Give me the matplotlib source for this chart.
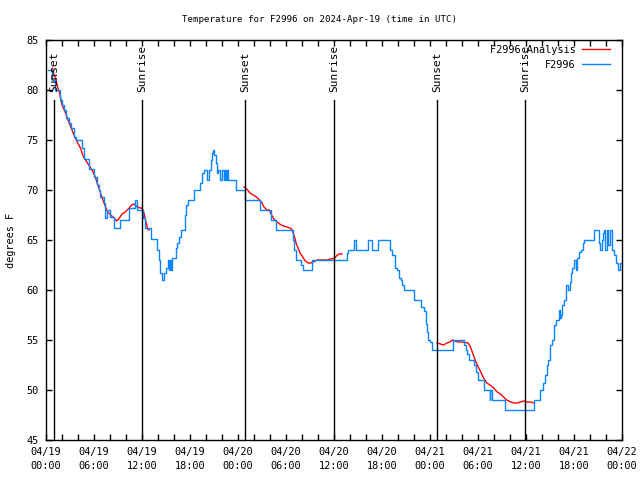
import matplotlib
matplotlib.use("Agg")
import matplotlib.pyplot as plt
from matplotlib.ticker import MultipleLocator, FixedLocator

# ---- data (hours since 2024-04-19 00:00 UTC) ----
obs_t = [0.25, 0.8, 1.1, 1.7, 2.0, 2.25, 2.45, 2.9, 3.1, 3.5, 3.8, 4.45, 4.7, 5.35, 5.95,
         6.35, 6.6, 6.8, 7.2, 7.4, 7.65, 8.05, 8.5, 9.2, 10.4, 11.1, 11.4, 12.15, 12.4, 13.1,
         13.9, 14.15, 14.3, 14.45, 14.7, 14.95, 15.2, 15.35, 15.5, 15.6, 15.8, 16.2, 16.35,
         16.6, 16.85, 17.35, 17.55, 17.75, 18.55, 19.25, 19.5, 19.7, 20.15, 20.35, 20.65,
         20.8, 20.9, 21.05, 21.2, 21.35, 21.5, 21.75, 22.05, 22.25, 22.4, 22.55, 22.65, 22.8,
         23.7, 24.85, 26.75, 28.1, 28.7, 30.85, 31.0, 31.25, 31.9, 32.1, 33.3, 37.6, 37.8,
         38.55, 38.75, 40.3, 40.75, 41.45, 43.0, 43.3, 43.6, 43.9, 44.1, 44.4, 44.55, 44.75,
         46.05, 46.9, 47.2, 47.45, 47.6, 47.8, 48.0, 48.25, 50.9, 52.25, 52.45, 52.65, 52.85,
         53.5, 53.75, 54.05, 54.75, 55.45, 55.55, 55.75, 57.35, 60.95, 61.75, 62.1, 62.4,
         62.6, 62.75, 63.0, 63.2, 63.5, 63.7, 64.1, 64.25, 64.4, 64.55, 64.7, 65.05, 65.25,
         65.45, 65.6, 65.8, 66.0, 66.2, 66.4, 66.65, 66.9, 67.1, 67.3, 68.5, 69.1, 69.2, 69.5,
         69.65, 69.75, 69.9, 70.1, 70.3, 70.45, 70.7, 71.0, 71.3, 71.55, 71.8, 72.0]
obs_v = [82, 81, 80, 79, 78.5, 78, 77.2, 76.7, 76.2, 75.3, 75, 74.2, 73.1, 72.1, 71.3,
         70.5, 70, 69.3, 68.7, 67.2, 68, 67.3, 66.2, 67, 68.2, 69, 68, 67.2, 66.2, 65.1,
         64, 63, 61.7, 61, 61.7, 62.2, 63, 62, 63, 62, 63.2, 64.2, 64.7,
         65.3, 66, 67.5, 68.5, 69, 70, 70.7, 71.7, 72, 71, 72, 73,
         73.7, 74, 73.5, 72.7, 71.7, 72, 71, 72, 71, 72, 71, 72, 71,
         70, 69, 68, 67, 66, 65, 64, 63, 62.5, 62, 63, 63.7, 64,
         65, 64, 65, 64, 65, 64, 63.5, 62.2, 62, 61.2, 61, 60.5, 60,
         59, 58.3, 57.9, 56.6, 55.8, 55, 54.8, 54, 55, 54.5, 54, 53.6, 53,
         52.5, 51.8, 51, 50, 49, 50, 49, 48, 49, 50, 50.7, 51.5,
         52.5, 53, 54.5, 55, 56.5, 57, 58, 57.2, 57.5, 58.5, 59, 60.5, 60,
         60.8, 61.7, 62.2, 63, 62, 63.2, 63.8, 64, 64.7, 65, 66, 64.7, 64, 65,
         65.7, 66, 64, 66, 64.5, 66, 64, 63.5, 62.7, 62, 62.7, 62.7]

ana1_t = [0.8, 1.0, 1.2, 1.45, 1.7, 2.0, 2.45, 2.75, 3.1, 3.5, 3.9, 4.3, 4.7, 5.1, 5.5, 5.9,
          6.2, 6.6, 6.9, 7.25, 7.7, 8.1, 8.5, 8.8, 9.1, 9.5, 9.9, 10.4, 10.7, 11.0, 11.4,
          11.8, 12.0, 12.25, 12.5, 12.7, 12.9]
ana1_v = [82.2, 81.5, 81.2, 80.3, 79.7, 78.5, 77.7, 77.0, 76.3, 75.5, 74.8, 74.2, 73.3, 72.8,
          72.3, 71.8, 71.2, 70.2, 69.5, 68.7, 67.8, 67.5, 67.2, 66.9, 67.1, 67.6, 67.8, 68.2,
          68.5, 68.6, 68.3, 68.2, 68.2, 67.7, 66.8, 66.1, 66.0]
ana2_t = [24.75, 25.1, 25.5, 25.9, 26.3, 26.7, 27.0, 27.25, 27.6, 27.9, 28.2, 28.4, 28.6, 28.9,
          29.2, 29.7, 30.1, 30.5, 30.7, 30.9, 31.1, 31.3, 31.5, 31.75, 32.1, 32.4, 32.8, 33.1,
          33.4, 33.9, 35.1, 35.6, 36.1, 36.3, 36.6, 37.0]
ana2_v = [70.3, 70.1, 69.7, 69.5, 69.3, 69.0, 68.7, 68.3, 68.0, 68.0, 67.5, 67.2, 67.0, 66.8,
          66.6, 66.4, 66.3, 66.2, 66.1, 65.7, 65.2, 64.6, 64.2, 63.7, 63.3, 62.9, 62.7, 62.7,
          62.8, 63.0, 63.0, 63.1, 63.2, 63.4, 63.6, 63.6]
ana3_t = [48.9, 49.3, 49.7, 50.1, 50.5, 50.8, 51.5, 52.1, 52.75, 52.95, 53.2, 53.5, 53.8, 54.1,
          54.4, 54.7, 55.1, 55.5, 55.95, 56.4, 56.8, 57.2, 57.6, 58.1, 58.5, 58.9, 59.3, 59.7,
          60.1, 60.6, 60.9]
ana3_v = [54.7, 54.6, 54.5, 54.7, 54.8, 55.0, 54.8, 54.8, 54.7, 54.5, 54.0, 53.3, 52.7, 52.2,
          51.7, 51.2, 50.7, 50.5, 50.2, 49.8, 49.6, 49.3, 49.0, 48.8, 48.7, 48.7, 48.8, 48.9,
          48.8, 48.8, 48.7]

sun_t = [1.0, 12.0, 24.9, 36.0, 48.9, 59.9]
sun_lbl = ["Sunset", "Sunrise", "Sunset", "Sunrise", "Sunset", "Sunrise"]

xtick_h = [0, 6, 12, 18, 24, 30, 36, 42, 48, 54, 60, 66, 72]
xtick_lbl = ["04/19\n00:00", "04/19\n06:00", "04/19\n12:00", "04/19\n18:00",
             "04/20\n00:00", "04/20\n06:00", "04/20\n12:00", "04/20\n18:00",
             "04/21\n00:00", "04/21\n06:00", "04/21\n12:00", "04/21\n18:00",
             "04/22\n00:00"]

FONT = "DejaVu Sans Mono"
FS_T = 6.6     # title
FS = 7.4       # ticks, labels, legend
FS_SUN = 8.0
plt.rcParams['font.family'] = FONT

fig = plt.figure(figsize=(6.4, 4.8), dpi=100)
ax = fig.add_axes([46/640, 40/480, 576/640, 400/480])

red = '#ff0000'
blue = '#0a84ff'
ax.plot(ana1_t, ana1_v, color=red, lw=1.0, label='F2996 Analysis')
ax.plot(ana2_t, ana2_v, color=red, lw=1.0)
ax.plot(ana3_t, ana3_v, color=red, lw=1.0)
ax.plot(obs_t, obs_v, color=blue, lw=1.0, drawstyle='steps-post', label='F2996')

for t, lbl in zip(sun_t, sun_lbl):
    ax.plot([t, t], [0, 0.85], color='black', lw=1.0, transform=ax.get_xaxis_transform())
    ax.text(t, 0.87, lbl, rotation=90, ha='center', va='bottom', fontsize=FS_SUN,
            transform=ax.get_xaxis_transform())

ax.set_xlim(0, 72)
ax.set_ylim(45, 85)
ax.xaxis.set_major_locator(FixedLocator(xtick_h))
ax.set_xticklabels(xtick_lbl, linespacing=1.45)
ax.xaxis.set_minor_locator(MultipleLocator(2))
ax.yaxis.set_major_locator(MultipleLocator(5))
ax.tick_params(which='both', direction='in', top=True, right=True, length=4, width=1,
               labelsize=FS, pad=5)
for s in ax.spines.values():
    s.set_linewidth(1.0)

ax.set_ylabel('degrees F', fontsize=FS)
ax.yaxis.set_label_coords(-0.052, 0.5)
fig.text(0.5, 1 - 19/480, 'Temperature for F2996 on 2024-Apr-19 (time in UTC)',
         ha='center', va='center', fontsize=FS_T)

em = FS * 100 / 72.0
leg = ax.legend(loc='upper right', frameon=False, fontsize=FS, markerfirst=False,
                bbox_to_anchor=(610/640, 1 - 45/480), bbox_transform=fig.transFigure,
                borderpad=0, borderaxespad=0,
                handlelength=28/em, labelspacing=0.45, handletextpad=6/em)
for txt in leg.get_texts():
    txt.set_ha('right')

fig.savefig('out.png', dpi=100)
